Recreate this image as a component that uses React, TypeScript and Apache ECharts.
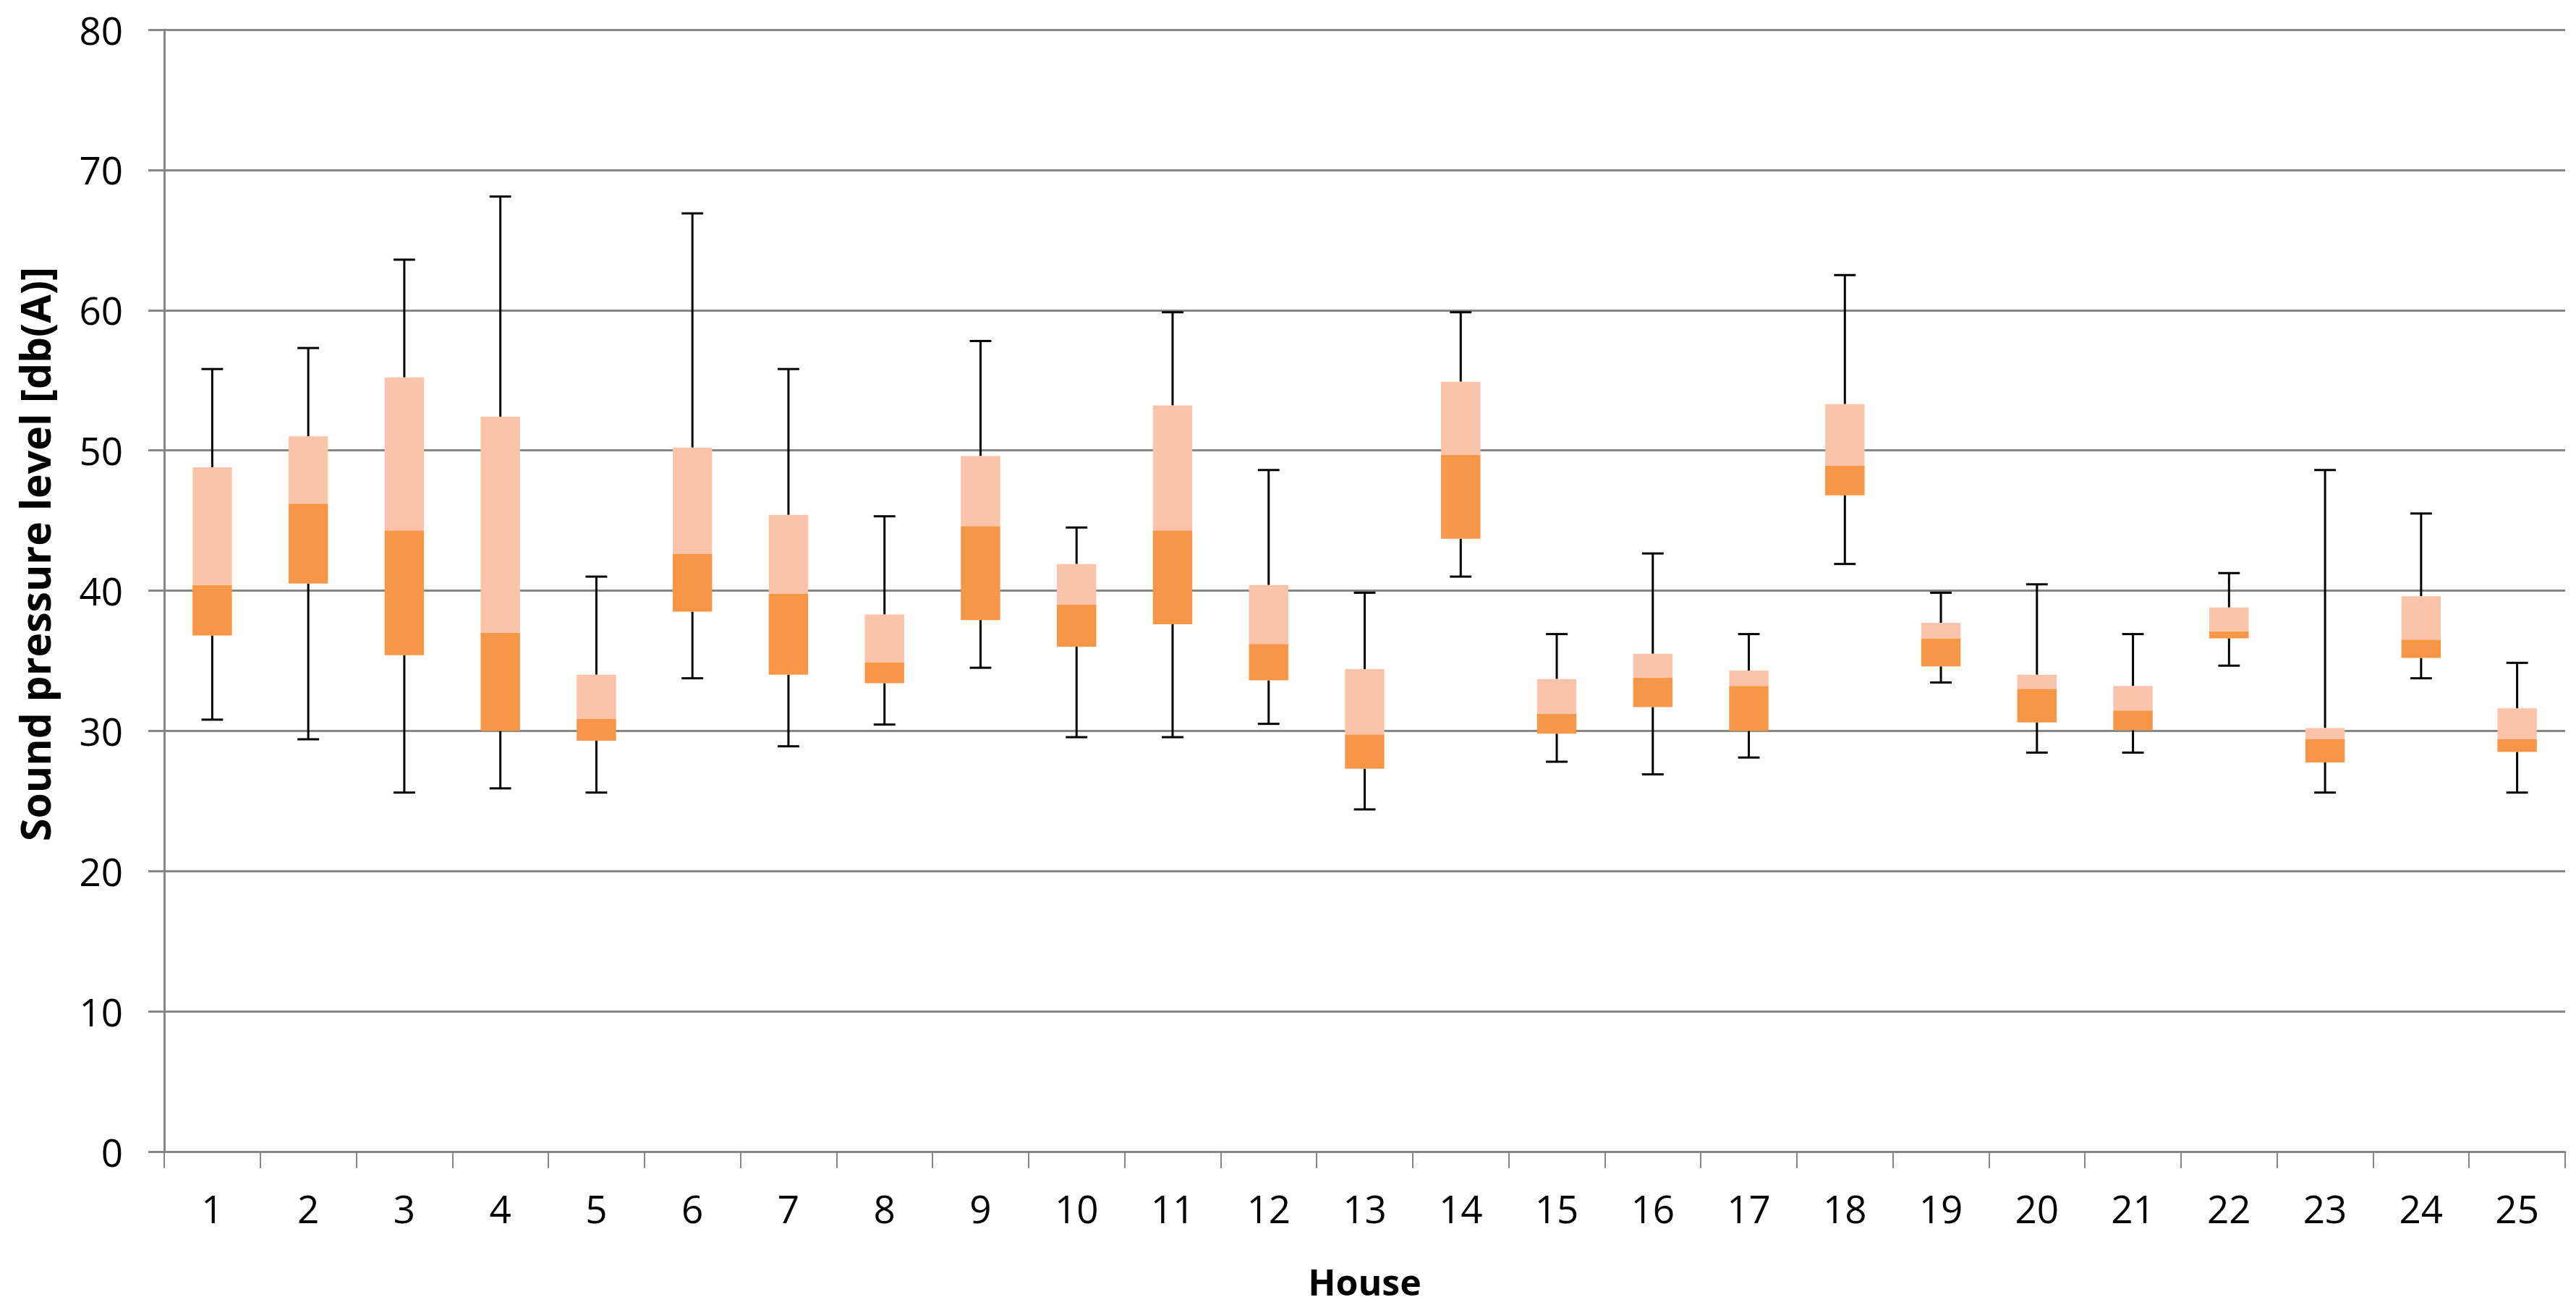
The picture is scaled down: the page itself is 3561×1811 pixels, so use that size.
import React, { useEffect, useRef } from "react";
import * as echarts from "echarts";

const houses = ["1","2","3","4","5","6","7","8","9","10","11","12","13","14","15","16","17","18","19","20","21","22","23","24","25"];
const whiskerMax = [55.8,57.3,63.6,68.1,41.0,66.9,55.8,45.3,57.8,44.5,59.85,48.6,39.85,59.85,36.9,42.65,36.9,62.5,39.85,40.45,36.9,41.25,48.6,45.5,34.85];
const upperQuartile = [48.8,51.0,55.2,52.4,34.0,50.2,45.4,38.3,49.6,41.9,53.2,40.4,34.4,54.9,33.7,35.5,34.3,53.3,37.7,34.0,33.2,38.8,30.2,39.6,31.6];
const medians = [40.4,46.2,44.3,37.0,30.85,42.6,39.8,34.9,44.6,39.0,44.3,36.2,29.75,49.7,31.2,33.8,33.2,48.9,36.6,33.0,31.45,37.1,29.4,36.5,29.4];
const lowerQuartile = [36.8,40.5,35.4,30.0,29.3,38.5,34.0,33.4,37.9,36.0,37.6,33.6,27.3,43.7,29.8,31.7,30.0,46.8,34.6,30.6,30.05,36.6,27.75,35.2,28.5];
const whiskerMin = [30.8,29.4,25.6,25.9,25.6,33.75,28.9,30.45,34.5,29.55,29.55,30.5,24.4,41.0,27.8,26.9,28.1,41.9,33.45,28.45,28.45,34.65,25.6,33.75,25.6];
const yTicks = { min: 0, max: 80, interval: 10 };

const FONT = "'Open Sans', 'Noto Sans', sans-serif";
const GRID_GREY = "#868686";
const LIGHT = "#F9C4AA";
const DARK = "#F79646";

export default function App() {
  const ref = useRef<HTMLDivElement>(null);
  useEffect(() => {
    if (!ref.current) return;
    const chart = echarts.init(ref.current, undefined, { renderer: "svg" });
    const data = houses.map((_, i) => [i, whiskerMin[i], lowerQuartile[i], medians[i], upperQuartile[i], whiskerMax[i]]);
    chart.setOption({
      animation: false,
      backgroundColor: "#ffffff",
      grid: { left: 227, right: 15, top: 41, bottom: 219, containLabel: false },
      graphic: [
        {
          type: "text",
          x: 48,
          y: 766,
          rotation: Math.PI / 2,
          style: {
            text: "Sound pressure level [db(A)]",
            font: `bold 57px ${FONT}`,
            fill: "#000",
            align: "center",
            verticalAlign: "middle",
          },
        },
      ],
      xAxis: {
        type: "category",
        data: houses,
        boundaryGap: true,
        name: "House",
        nameLocation: "middle",
        nameGap: 155,
        nameTextStyle: { fontFamily: FONT, fontWeight: "bold", fontSize: 50, color: "#000" },
        axisLine: { show: true, lineStyle: { color: GRID_GREY, width: 3 } },
        axisTick: { show: true, alignWithLabel: false, length: 23, lineStyle: { color: GRID_GREY, width: 2 } },
        axisLabel: { fontFamily: FONT, fontSize: 53, color: "#000", margin: 52, interval: 0 },
        splitLine: { show: false },
      },
      yAxis: {
        type: "value",
        min: yTicks.min,
        max: yTicks.max,
        interval: yTicks.interval,
        axisLine: { show: true, lineStyle: { color: GRID_GREY, width: 3 } },
        axisTick: { show: true, inside: false, length: 22, lineStyle: { color: GRID_GREY, width: 3 } },
        axisLabel: { fontFamily: FONT, fontSize: 53, color: "#000", margin: 57 },
        splitLine: { show: true, lineStyle: { color: GRID_GREY, width: 3 } },
      },
      series: [
        {
          type: "custom",
          data,
          encode: { x: 0, y: [1, 2, 3, 4, 5] },
          renderItem: (params: any, api: any) => {
            const x = api.value(0);
            const pMin = api.coord([x, api.value(1)]);
            const pQ1 = api.coord([x, api.value(2)]);
            const pMed = api.coord([x, api.value(3)]);
            const pQ3 = api.coord([x, api.value(4)]);
            const pMax = api.coord([x, api.value(5)]);
            const band = api.size([1, 0])[0];
            const boxW = band * 0.41;
            const capW = band * 0.225;
            const cx = pMed[0];
            const ls = { stroke: "#000", lineWidth: 3 };
            return {
              type: "group",
              children: [
                { type: "line", shape: { x1: cx, y1: pMax[1], x2: cx, y2: pQ3[1] }, style: ls },
                { type: "line", shape: { x1: cx - capW / 2, y1: pMax[1], x2: cx + capW / 2, y2: pMax[1] }, style: ls },
                { type: "line", shape: { x1: cx, y1: pMin[1], x2: cx, y2: pQ1[1] }, style: ls },
                { type: "line", shape: { x1: cx - capW / 2, y1: pMin[1], x2: cx + capW / 2, y2: pMin[1] }, style: ls },
                { type: "rect", shape: { x: cx - boxW / 2, y: pMed[1], width: boxW, height: pQ1[1] - pMed[1] }, style: { fill: DARK } },
                { type: "rect", shape: { x: cx - boxW / 2, y: pQ3[1], width: boxW, height: pMed[1] - pQ3[1] }, style: { fill: LIGHT } },
              ],
            };
          },
        },
      ],
    });
    return () => chart.dispose();
  }, []);
  return <div ref={ref} style={{ position: "absolute", left: 0, top: 0, width: 3561, height: 1811 }} />;
}
